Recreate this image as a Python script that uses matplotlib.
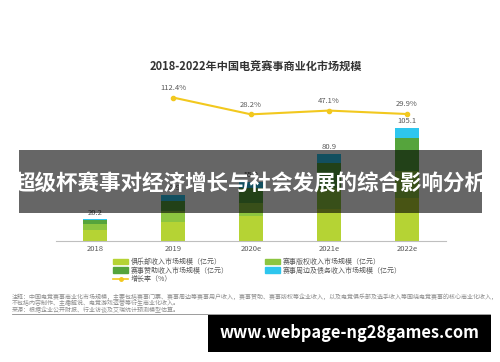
import numpy as np
import matplotlib
matplotlib.use("Agg")
import matplotlib.pyplot as plt
from matplotlib.patches import Rectangle, Patch
from matplotlib.lines import Line2D

plt.rcParams['font.family'] = ['Noto Sans CJK SC', 'DejaVu Sans']

# data
years = ['2018', '2019', '2020e', '2021e', '2022e']
club = [10.4, 18.0, 23.0, 30.0, 40.0]
rights = [5.6, 9.5, 12.0, 19.0, 25.0]
sponsor = [3.4, 10.0, 14.0, 24.0, 31.0]
merch = [0.8, 5.4, 6.0, 7.9, 9.1]
totals = [20.2, 42.9, 55.0, 80.9, 105.1]
growth_years = ['2019', '2020e', '2021e', '2022e']
growth = [112.4, 28.2, 47.1, 29.9]

series_names = ['俱乐部收入市场规模（亿元）', '赛事版权收入市场规模（亿元）',
                '赛事赞助收入市场规模（亿元）', '赛事周边及债务收入市场规模（亿元）']
colors = ['#b5d334', '#8cc540', '#55a43c', '#2ec6ee']
line_color = '#f2c81e'

W, H = 500, 362
fig = plt.figure(figsize=(W / 100, H / 100), dpi=100)

# axes placed in pixel terms
ax = fig.add_axes([56 / W, (H - 241) / H, 390 / W, 161 / H])
x = np.arange(len(years))
bottom = np.zeros(len(years))
for vals, c in zip([club, rights, sponsor, merch], colors):
    ax.bar(x, vals, width=0.31, bottom=bottom, color=c, zorder=2)
    bottom += np.array(vals)

for xi, t in zip(x, totals):
    ax.annotate(f'{t:.1f}', (xi, t), xytext=(0, 2), textcoords='offset points',
                ha='center', va='bottom', fontsize=5.5, color='#595959')

ax.set_xlim(-0.5, 4.5)
ax.set_ylim(0, 161 / 1.075)
ax.set_xticks(x)
ax.set_xticklabels(years, fontsize=5.5, color='#595959')
ax.tick_params(axis='x', length=0, pad=3)
ax.set_yticks([])
for s in ['top', 'left', 'right']:
    ax.spines[s].set_visible(False)
ax.spines['bottom'].set_color('#bfbfbf')
ax.spines['bottom'].set_linewidth(0.8)

ax2 = ax.twinx()
gx = [years.index(g) for g in growth_years]
ax2.plot(gx, growth, color=line_color, lw=1.5, marker='o', ms=3, zorder=3)
for xi, g in zip(gx, growth):
    ax2.annotate(f'{g:.1f}%', (xi, g), xytext=(0, 4), textcoords='offset points',
                 ha='center', va='bottom', fontsize=5.5, color='#595959')
ax2.set_ylim(-605, 200)
ax2.axis('off')

fig.text(256 / W, 1 - 67 / H, '2018-2022年中国电竞赛事商业化市场规模', ha='center',
         va='center', fontsize=8, fontweight='bold', color='#333333')

# legend
handles = [Patch(color=colors[0], label=series_names[0]),
           Patch(color=colors[2], label=series_names[2]),
           Line2D([0], [0], color=line_color, marker='o', ms=2.5, lw=1.2, label='增长率（%）'),
           Patch(color=colors[1], label=series_names[1]),
           Patch(color=colors[3], label=series_names[3])]
fig.legend(handles=handles, loc='upper left', bbox_to_anchor=(108 / W, 1 - 253 / H),
           ncol=2, frameon=False, fontsize=5, handlelength=2.2, handleheight=0.8,
           handletextpad=0.4, columnspacing=5.2, labelspacing=0.1,
           labelcolor='#595959', borderpad=0.2)

notes = ['注释：中国电竞赛事商业化市场规模，主要包括赛事门票、赛事周边等赛事用户收入，赛事赞助、赛事版权等企业收入，以及电竞俱乐部及选手收入等围绕电竞赛事的核心商业化收入，',
         '不包括内容制作、主播解说、电竞游戏运营等衍生商业化收入。',
         '来源：根据企业公开财报、行业访谈及艾瑞统计预测模型估算。']
for i, n in enumerate(notes):
    fig.text(12 / W, 1 - (297 + 6.5 * i) / H, n, ha='left', va='center',
             fontsize=4.3, color='#8c8c8c')
fig.add_artist(Line2D([12 / W, 490 / W], [1 - 313.5 / H, 1 - 313.5 / H], color='#8c8c8c', lw=0.6))

# overlay banner
fig.add_artist(Rectangle((19 / W, 1 - 213 / H), 463 / W, 63 / H, transform=fig.transFigure,
                         facecolor='black', alpha=0.6, edgecolor='none', zorder=5))
fig.text(250 / W, 1 - 183 / H, '超级杯赛事对经济增长与社会发展的综合影响分析', ha='center',
         va='center', fontsize=15.5, fontweight='bold', color='white', zorder=6)

# watermark box
fig.add_artist(Rectangle((208 / W, 1 - 352 / H), 283 / W, 37 / H, transform=fig.transFigure,
                         facecolor='black', edgecolor='none', zorder=5))
fig.text(349 / W, 1 - 333.5 / H, 'www.webpage-ng28games.com', ha='center', va='center',
         fontsize=11.8, fontweight='bold', color='white', zorder=6)

fig.savefig('out.png', dpi=100, facecolor='white')
